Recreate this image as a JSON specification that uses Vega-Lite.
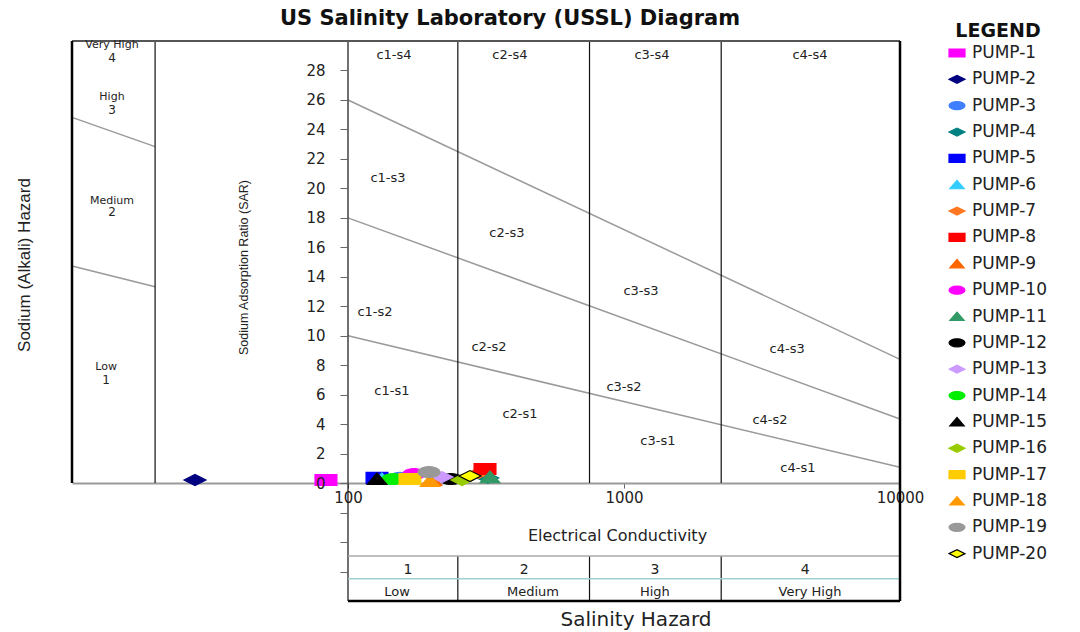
{
  "$schema": "https://vega.github.io/schema/vega-lite/v6.json",
  "width": 828,
  "height": 560,
  "autosize": {"type": "none"},
  "padding": {"left": 72, "top": 41, "right": 180, "bottom": 31},
  "background": "white",
  "config": {"view": {"stroke": null}},
  "title": {"text": "US Salinity Laboratory (USSL) Diagram", "font": "DejaVu Sans", "fontSize": 21, "fontWeight": "bold", "color": "#111", "anchor": "middle", "frame": "group", "dx": 24, "dy": 22, "offset": 15},
  "datasets": {
    "diag": [
      {"ec": 100, "sar": 10, "ec2": 10000, "sar2": 1.07},
      {"ec": 100, "sar": 18, "ec2": 10000, "sar2": 4.35},
      {"ec": 100, "sar": 26, "ec2": 10000, "sar2": 8.4},
      {"ec": 10, "sar": 24.82, "ec2": 20, "sar2": 22.83},
      {"ec": 10, "sar": 14.73, "ec2": 20, "sar2": 13.33}
    ],
    "thin": [
      {"ec": 20, "sar": 0, "ec2": 20, "sar2": 30},
      {"ec": 100, "sar": -8, "ec2": 100, "sar2": 30},
      {"ec": 250, "sar": 0, "ec2": 250, "sar2": 30},
      {"ec": 250, "sar": -8, "ec2": 250, "sar2": -4.95},
      {"ec": 750, "sar": 0, "ec2": 750, "sar2": 30},
      {"ec": 750, "sar": -8, "ec2": 750, "sar2": -4.95},
      {"ec": 2250, "sar": 0, "ec2": 2250, "sar2": 30},
      {"ec": 2250, "sar": -8, "ec2": 2250, "sar2": -4.95}
    ],
    "frame": [
      {"ec": 10, "sar": 0, "ec2": 10, "sar2": 30},
      {"ec": 10000, "sar": -8, "ec2": 10000, "sar2": 30},
      {"ec": 100, "sar": -8, "ec2": 10000, "sar2": -8}
    ],
    "top": [
      {"ec": 10, "sar": 30, "ec2": 10000, "sar2": 30}
    ],
    "hgray": [
      {"ec": 100, "sar": -4.95, "ec2": 10000, "sar2": -4.95}
    ],
    "hteal": [
      {"ec": 100, "sar": -6.49, "ec2": 10000, "sar2": -6.49}
    ],
    "regions": [
      {"label": "c1-s4", "ec": 146.8, "sar": 29.05},
      {"label": "c2-s4", "ec": 386, "sar": 29.05},
      {"label": "c3-s4", "ec": 1263, "sar": 29.05},
      {"label": "c4-s4", "ec": 4720, "sar": 29.05},
      {"label": "c1-s3", "ec": 139.6, "sar": 20.7},
      {"label": "c2-s3", "ec": 376.6, "sar": 16.99},
      {"label": "c3-s3", "ec": 1152, "sar": 13.04},
      {"label": "c4-s3", "ec": 3900, "sar": 9.1},
      {"label": "c1-s2", "ec": 125.3, "sar": 11.61},
      {"label": "c2-s2", "ec": 324.3, "sar": 9.23},
      {"label": "c3-s2", "ec": 1000, "sar": 6.52},
      {"label": "c4-s2", "ec": 3380, "sar": 4.28},
      {"label": "c1-s1", "ec": 144.2, "sar": 6.25},
      {"label": "c2-s1", "ec": 419.8, "sar": 4.69},
      {"label": "c3-s1", "ec": 1327, "sar": 2.86},
      {"label": "c4-s1", "ec": 4267, "sar": 1.02}
    ],
    "hazwords": [
      {"label": "Very High", "ec": 13.96, "sar": 29.7},
      {"label": "High", "ec": 13.96, "sar": 26.2},
      {"label": "Medium", "ec": 13.96, "sar": 19.17},
      {"label": "Low", "ec": 13.3, "sar": 7.87}
    ],
    "hazdigits": [
      {"label": "4", "ec": 13.96, "sar": 28.85},
      {"label": "3", "ec": 13.96, "sar": 25.35},
      {"label": "2", "ec": 13.96, "sar": 18.37},
      {"label": "1", "ec": 13.3, "sar": 7.03}
    ],
    "boxnum": [
      {"label": "1", "ec": 165, "sar": -5.9},
      {"label": "2", "ec": 434.5, "sar": -5.9},
      {"label": "3", "ec": 1294, "sar": -5.9},
      {"label": "4", "ec": 4530, "sar": -5.9}
    ],
    "boxword": [
      {"label": "Low", "ec": 150.5, "sar": -7.39},
      {"label": "Medium", "ec": 467.7, "sar": -7.39},
      {"label": "High", "ec": 1294, "sar": -7.39},
      {"label": "Very High", "ec": 4720, "sar": -7.39}
    ],
    "salinity": [
      {"label": "Salinity Hazard", "ec": 1105, "sar": -9.3}
    ],
    "sodium": [
      {"label": "Sodium (Alkali) Hazard", "ec": 6.76, "sar": 14.8}
    ],
    "pumps": [
      {"pump": "PUMP-1", "ec": 83.2, "sar": 0.21},
      {"pump": "PUMP-2", "ec": 27.9, "sar": 0.21},
      {"pump": "PUMP-3", "ec": 154, "sar": 0.35},
      {"pump": "PUMP-4", "ec": 321, "sar": 0.35},
      {"pump": "PUMP-5", "ec": 127.4, "sar": 0.35},
      {"pump": "PUMP-6", "ec": 132.7, "sar": 0.28},
      {"pump": "PUMP-7", "ec": 298, "sar": 0.69},
      {"pump": "PUMP-8", "ec": 313.6, "sar": 0.96},
      {"pump": "PUMP-9", "ec": 201.4, "sar": 0.21},
      {"pump": "PUMP-10", "ec": 173.4, "sar": 0.62},
      {"pump": "PUMP-11", "ec": 327, "sar": 0.41},
      {"pump": "PUMP-12", "ec": 236.2, "sar": 0.28},
      {"pump": "PUMP-13", "ec": 219.1, "sar": 0.41},
      {"pump": "PUMP-14", "ec": 145.6, "sar": 0.28},
      {"pump": "PUMP-15", "ec": 127.4, "sar": 0.28},
      {"pump": "PUMP-16", "ec": 258.8, "sar": 0.21},
      {"pump": "PUMP-17", "ec": 167.7, "sar": 0.28},
      {"pump": "PUMP-18", "ec": 198.2, "sar": 0.14},
      {"pump": "PUMP-19", "ec": 196.6, "sar": 0.75},
      {"pump": "PUMP-20", "ec": 276.7, "sar": 0.48}
    ]
  },
  "layer": [
    {
      "data": {"name": "diag"},
      "mark": {"type": "rule", "color": "#9a9a9a", "strokeWidth": 1.5},
      "encoding": {
        "x": {"field": "ec", "type": "quantitative", "title": "Electrical Conductivity",
          "scale": {"type": "log", "domain": [10, 10000], "nice": false},
          "axis": {"orient": "bottom", "offset": -117.9, "values": [100, 1000, 10000], "tickCount": 40, "format": "d", "grid": false,
            "domain": true, "domainColor": "#9a9a9a", "domainWidth": 2, "tickColor": "#666", "tickSize": 5,
            "labelPadding": 2, "labelFont": "DejaVu Sans", "labelFontSize": 15, "labelColor": "#222", "labelFlush": false, "labelOverlap": false,
            "titleX": 545, "titleY": 52, "titleAlign": "center", "titleBaseline": "middle", "titleFont": "DejaVu Sans", "titleFontSize": 16, "titleFontWeight": "normal", "titleColor": "#222"}},
        "x2": {"field": "ec2"},
        "y": {"field": "sar", "type": "quantitative", "title": "Sodium Adsorption Ratio (SAR)",
          "scale": {"domain": [-8, 30], "nice": false, "zero": false},
          "axis": {"orient": "left", "offset": -276, "values": [-6, -4, -2, 0, 2, 4, 6, 8, 10, 12, 14, 16, 18, 20, 22, 24, 26, 28], "tickCount": 40,
            "labelExpr": "datum.value < 0 ? '' : datum.label", "grid": false, "domain": false, "tickColor": "#666", "tickSize": 8,
            "labelPadding": 15, "labelFont": "DejaVu Sans", "labelFontSize": 15, "labelColor": "#222", "labelFlush": false, "labelOverlap": false, "zindex": 1,
            "titleX": -105, "titleY": 226, "titleAngle": 270, "titleAlign": "center", "titleBaseline": "middle",
            "titleFont": "Liberation Sans", "titleFontSize": 12.5, "titleFontWeight": "normal", "titleColor": "#222"}},
        "y2": {"field": "sar2"}
      }
    },
    {
      "data": {"name": "thin"},
      "mark": {"type": "rule", "color": "#111", "strokeWidth": 1.2},
      "encoding": {"x": {"field": "ec", "type": "quantitative"}, "x2": {"field": "ec2"}, "y": {"field": "sar", "type": "quantitative"}, "y2": {"field": "sar2"}}
    },
    {
      "data": {"name": "hgray"},
      "mark": {"type": "rule", "color": "#aaaaaa", "strokeWidth": 1.5},
      "encoding": {"x": {"field": "ec", "type": "quantitative"}, "x2": {"field": "ec2"}, "y": {"field": "sar", "type": "quantitative"}, "y2": {"field": "sar2"}}
    },
    {
      "data": {"name": "hteal"},
      "mark": {"type": "rule", "color": "#9fcfcf", "strokeWidth": 1.5},
      "encoding": {"x": {"field": "ec", "type": "quantitative"}, "x2": {"field": "ec2"}, "y": {"field": "sar", "type": "quantitative"}, "y2": {"field": "sar2"}}
    },
    {
      "data": {"name": "top"},
      "mark": {"type": "rule", "color": "#555", "strokeWidth": 2},
      "encoding": {"x": {"field": "ec", "type": "quantitative"}, "x2": {"field": "ec2"}, "y": {"field": "sar", "type": "quantitative"}, "y2": {"field": "sar2"}}
    },
    {
      "data": {"name": "frame"},
      "mark": {"type": "rule", "color": "#000", "strokeWidth": 2.5},
      "encoding": {"x": {"field": "ec", "type": "quantitative"}, "x2": {"field": "ec2"}, "y": {"field": "sar", "type": "quantitative"}, "y2": {"field": "sar2"}}
    },
    {
      "data": {"name": "regions"},
      "mark": {"type": "text", "font": "DejaVu Sans", "fontSize": 13, "color": "#222", "align": "center", "baseline": "middle"},
      "encoding": {"x": {"field": "ec", "type": "quantitative"}, "y": {"field": "sar", "type": "quantitative"}, "text": {"field": "label"}}
    },
    {
      "data": {"name": "hazwords"},
      "mark": {"type": "text", "font": "DejaVu Sans", "fontSize": 11, "color": "#222", "align": "center", "baseline": "middle"},
      "encoding": {"x": {"field": "ec", "type": "quantitative"}, "y": {"field": "sar", "type": "quantitative"}, "text": {"field": "label"}}
    },
    {
      "data": {"name": "hazdigits"},
      "mark": {"type": "text", "font": "DejaVu Sans", "fontSize": 12, "color": "#222", "align": "center", "baseline": "middle"},
      "encoding": {"x": {"field": "ec", "type": "quantitative"}, "y": {"field": "sar", "type": "quantitative"}, "text": {"field": "label"}}
    },
    {
      "data": {"name": "boxnum"},
      "mark": {"type": "text", "font": "DejaVu Sans", "fontSize": 14, "color": "#222", "align": "center", "baseline": "middle"},
      "encoding": {"x": {"field": "ec", "type": "quantitative"}, "y": {"field": "sar", "type": "quantitative"}, "text": {"field": "label"}}
    },
    {
      "data": {"name": "boxword"},
      "mark": {"type": "text", "font": "DejaVu Sans", "fontSize": 13, "color": "#222", "align": "center", "baseline": "middle"},
      "encoding": {"x": {"field": "ec", "type": "quantitative"}, "y": {"field": "sar", "type": "quantitative"}, "text": {"field": "label"}}
    },
    {
      "data": {"name": "salinity"},
      "mark": {"type": "text", "font": "DejaVu Sans", "fontSize": 20, "color": "#222", "align": "center", "baseline": "middle"},
      "encoding": {"x": {"field": "ec", "type": "quantitative"}, "y": {"field": "sar", "type": "quantitative"}, "text": {"field": "label"}}
    },
    {
      "data": {"name": "sodium"},
      "mark": {"type": "text", "font": "Liberation Sans", "fontSize": 17, "color": "#222", "align": "center", "baseline": "middle", "angle": 270},
      "encoding": {"x": {"field": "ec", "type": "quantitative"}, "y": {"field": "sar", "type": "quantitative"}, "text": {"field": "label"}}
    },
    {
      "data": {"name": "pumps"},
      "mark": {"type": "point", "filled": true, "size": 480, "strokeWidth": 1.2, "opacity": 1},
      "encoding": {
        "x": {"field": "ec", "type": "quantitative"},
        "y": {"field": "sar", "type": "quantitative"},
        "fill": {"field": "pump", "type": "nominal", "title": "LEGEND",
          "scale": {"domain": ["PUMP-1","PUMP-2","PUMP-3","PUMP-4","PUMP-5","PUMP-6","PUMP-7","PUMP-8","PUMP-9","PUMP-10","PUMP-11","PUMP-12","PUMP-13","PUMP-14","PUMP-15","PUMP-16","PUMP-17","PUMP-18","PUMP-19","PUMP-20"],
            "range": ["#FF00FF","#000080","#3F7FFF","#008080","#0000FF","#33CCFF","#FF7722","#FF0000","#FF6600","#FF00FF","#339966","#000000","#CC99FF","#00EE00","#000000","#99CC00","#FFCC00","#FF9900","#999999","#FFFF00"]},
          "legend": {"orient": "none", "legendX": 876, "legendY": -19, "padding": 0,
            "titleFont": "DejaVu Sans", "titleFontSize": 19, "titleFontWeight": "bold", "titleColor": "#111", "titleAnchor": "middle", "titlePadding": -1,
            "labelFont": "DejaVu Sans", "labelFontSize": 17, "labelColor": "#222", "labelOffset": 6,
            "symbolSize": 256, "symbolStrokeWidth": 1.2, "clipHeight": 26.0, "rowPadding": 0.35}},
        "stroke": {"field": "pump", "type": "nominal", "title": "LEGEND",
          "scale": {"domain": ["PUMP-1","PUMP-2","PUMP-3","PUMP-4","PUMP-5","PUMP-6","PUMP-7","PUMP-8","PUMP-9","PUMP-10","PUMP-11","PUMP-12","PUMP-13","PUMP-14","PUMP-15","PUMP-16","PUMP-17","PUMP-18","PUMP-19","PUMP-20"],
            "range": ["#FF00FF","#000080","#3F7FFF","#008080","#0000FF","#33CCFF","#FF7722","#FF0000","#FF6600","#FF00FF","#339966","#000000","#CC99FF","#00EE00","#000000","#99CC00","#FFCC00","#FF9900","#999999","#000000"]}},
        "shape": {"field": "pump", "type": "nominal", "title": "LEGEND",
          "scale": {"domain": ["PUMP-1","PUMP-2","PUMP-3","PUMP-4","PUMP-5","PUMP-6","PUMP-7","PUMP-8","PUMP-9","PUMP-10","PUMP-11","PUMP-12","PUMP-13","PUMP-14","PUMP-15","PUMP-16","PUMP-17","PUMP-18","PUMP-19","PUMP-20"],
            "range": [
              "M-1,-0.5L1,-0.5L1,0.5L-1,0.5Z",
              "M-1,0L0,-0.5L1,0L0,0.5Z",
              "M-1,0A1,0.5 0 1,0 1,0A1,0.5 0 1,0 -1,0Z",
              "M-1,0L0,-0.5L1,0L0,0.5Z",
              "M-1,-0.5L1,-0.5L1,0.5L-1,0.5Z",
              "M-0.9,0.5L0,-0.55L0.9,0.5Z",
              "M-1,0L0,-0.5L1,0L0,0.5Z",
              "M-1,-0.5L1,-0.5L1,0.5L-1,0.5Z",
              "M-0.9,0.5L0,-0.55L0.9,0.5Z",
              "M-1,0A1,0.5 0 1,0 1,0A1,0.5 0 1,0 -1,0Z",
              "M-0.9,0.5L0,-0.55L0.9,0.5Z",
              "M-1,0A1,0.5 0 1,0 1,0A1,0.5 0 1,0 -1,0Z",
              "M-1,0L0,-0.5L1,0L0,0.5Z",
              "M-1,0A1,0.5 0 1,0 1,0A1,0.5 0 1,0 -1,0Z",
              "M-0.9,0.5L0,-0.55L0.9,0.5Z",
              "M-1,0L0,-0.5L1,0L0,0.5Z",
              "M-1,-0.5L1,-0.5L1,0.5L-1,0.5Z",
              "M-0.9,0.5L0,-0.55L0.9,0.5Z",
              "M-1,0A1,0.5 0 1,0 1,0A1,0.5 0 1,0 -1,0Z",
              "M-1,0L0,-0.5L1,0L0,0.5Z"
            ]}}
      }
    }
  ]
}
